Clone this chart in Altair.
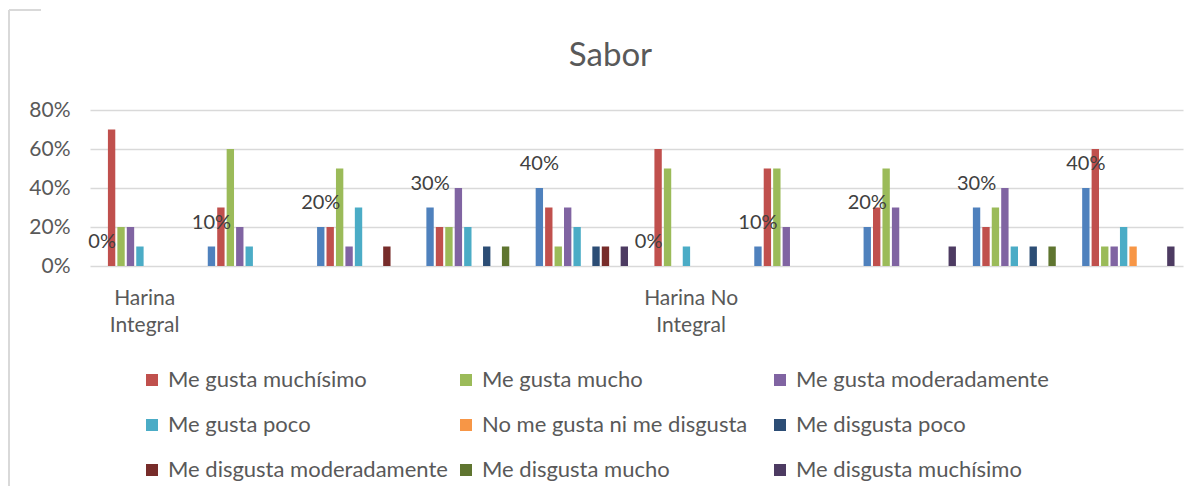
import altair as alt
import pandas as pd

# ---------------- data ----------------
groups = ["Harina Integral", "Harina No Integral"]
levels = ["0%", "10%", "20%", "30%", "40%"]
base_name = "Nivel"
base_values = [0, 10, 20, 30, 40, 0, 10, 20, 30, 40]

series_names = [
    "Me gusta muchísimo",
    "Me gusta mucho",
    "Me gusta moderadamente",
    "Me gusta poco",
    "No me gusta ni me disgusta",
    "Me disgusta poco",
    "Me disgusta moderadamente",
    "Me disgusta mucho",
    "Me disgusta muchísimo",
]
muchisimo = [70, 30, 20, 20, 30, 60, 50, 30, 20, 60]
mucho = [20, 60, 50, 20, 10, 50, 50, 50, 30, 10]
moderadamente = [20, 20, 10, 40, 30, 0, 20, 30, 40, 10]
poco = [10, 10, 30, 20, 20, 10, 0, 0, 10, 20]
ni_ni = [0, 0, 0, 0, 0, 0, 0, 0, 0, 10]
dis_poco = [0, 0, 0, 10, 10, 0, 0, 0, 10, 0]
dis_moderado = [0, 0, 10, 0, 10, 0, 0, 0, 0, 0]
dis_mucho = [0, 0, 0, 10, 0, 0, 0, 0, 10, 0]
dis_muchisimo = [0, 0, 0, 0, 10, 0, 0, 10, 0, 10]
series_values = [muchisimo, mucho, moderadamente, poco, ni_ni,
                 dis_poco, dis_moderado, dis_mucho, dis_muchisimo]

base_color = "#4F81BD"
series_colors = ["#C0504D", "#9BBB59", "#8064A2", "#4BACC6", "#F79646",
                 "#2C4D75", "#772C2A", "#5F7530", "#4D3B62"]

# ---------------- table ----------------
cats = [f"c{i}" for i in range(len(base_values))]
all_series = [base_name] + series_names
rows = []
for i, c in enumerate(cats):
    rows.append({"cat": c, "series": base_name, "value": base_values[i] / 100,
                 "label": levels[i % len(levels)]})
    for name, vals in zip(series_names, series_values):
        rows.append({"cat": c, "series": name, "value": vals[i] / 100, "label": ""})
df = pd.DataFrame(rows)

# axis labels: only the first category of each group gets the group name
parts = []
for gi, g in enumerate(groups):
    first, last = g.rsplit(" ", 1)
    parts.append(f"datum.value == 'c{gi * len(levels)}' ? ['{first}', '{last}']")
label_expr = " : ".join(parts) + " : ''"

FONT = "Lato"
GREY = "#595959"

x_enc = alt.X(
    "cat:N", sort=cats,
    scale=alt.Scale(paddingInner=0.136, paddingOuter=0.068),
    axis=alt.Axis(title=None, labelExpr=label_expr, ticks=False, domain=False,
                  labelAngle=0, labelFontSize=21, labelColor=GREY, labelFont=FONT,
                  labelPadding=21, labelOverlap=False, labelLineHeight=27),
)
xoff_enc = alt.XOffset("series:N", sort=all_series,
                       scale=alt.Scale(paddingInner=0.22, paddingOuter=0.11))
y_enc = alt.Y(
    "value:Q",
    scale=alt.Scale(domain=[0, 0.8]),
    axis=alt.Axis(title=None, format=".0%", values=[0, 0.2, 0.4, 0.6, 0.8],
                  tickCount=5, ticks=False, domain=False, labelFontSize=21,
                  labelColor=GREY, labelFont=FONT, labelPadding=20,
                  labelOverlap=False, gridColor="#D9D9D9", gridWidth=1.3),
)

bars = alt.Chart(df).mark_bar().encode(
    x=x_enc, xOffset=xoff_enc, y=y_enc,
    color=alt.Color(
        "series:N",
        scale=alt.Scale(domain=all_series, range=[base_color] + series_colors),
        legend=alt.Legend(values=series_names, columns=3, direction="horizontal",
                          orient="none", legendX=51, legendY=259, title=None,
                          symbolType="square", symbolSize=144, symbolStrokeWidth=0,
                          labelFontSize=22, labelColor=GREY, labelFont=FONT,
                          rowPadding=23, columnPadding=7, gridAlign="all",
                          labelOffset=5, labelLimit=400, symbolOffset=0),
    ),
)

labels = alt.Chart(df).transform_filter(
    alt.datum.series == base_name
).mark_text(dy=-24, fontSize=20, color="#404040", font=FONT).encode(
    x=x_enc, xOffset=xoff_enc, y=y_enc, text="label:N",
)

border_v = alt.Chart(alt.Data(values=[{}])).mark_rule(
    color="#D9D9D9", strokeWidth=2).encode(
    x=alt.value(-81), y=alt.value(-100), y2=alt.value(400))
border_h = alt.Chart(alt.Data(values=[{}])).mark_rule(
    color="#D9D9D9", strokeWidth=2).encode(
    x=alt.value(-81), x2=alt.value(-49), y=alt.value(-100))

chart = alt.layer(bars, labels, border_v, border_h).properties(
    width=1093, height=156,
    padding={"left": 82, "top": 102, "right": 9, "bottom": 220},
    autosize=alt.AutoSizeParams(type="none"),
    title=alt.Title("Sabor", fontSize=33, font=FONT, color=GREY,
                    fontWeight="normal", offset=-64, dx=-26),
).configure_view(stroke=None)

chart.save("out.html", embed_options={"renderer": "svg", "actions": False})
